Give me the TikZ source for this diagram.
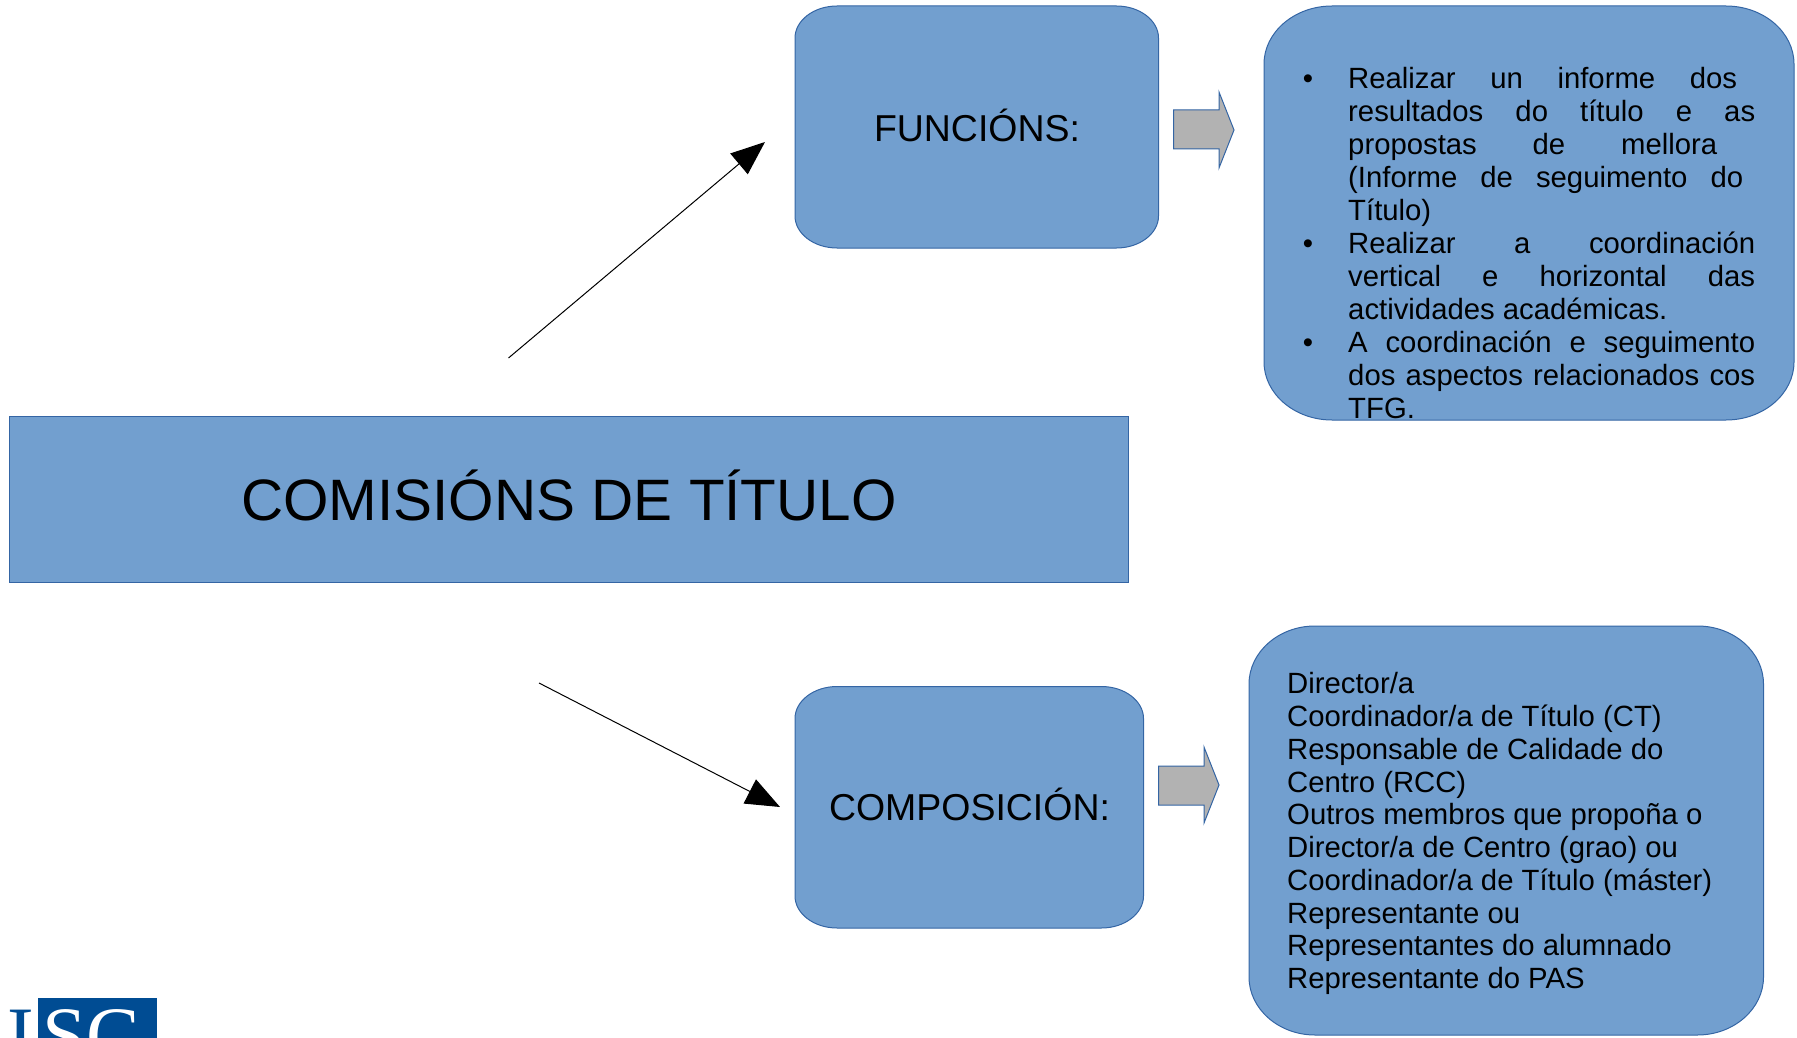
\documentclass[tikz,border=0pt]{standalone}
\usepackage{fontspec}
\setmainfont{Liberation Sans}
\newfontfamily\logofont{Liberation Serif}
\usetikzlibrary{arrows.meta}
\definecolor{boxfill}{HTML}{729FCF}
\definecolor{boxline}{HTML}{3465A4}
\definecolor{arrowfill}{HTML}{B2B2B2}
\definecolor{logoblue}{HTML}{004C93}
\newcommand{\softbox}[6]{%
  \draw[shapestyle] ({#1+#5},#2) -- ({#3-#5},#2)
    .. controls ({#3-0.45*#5},#2) and (#3,{#2+0.45*#6}) .. (#3,{#2+#6})
    -- (#3,{#4-#6})
    .. controls (#3,{#4-0.45*#6}) and ({#3-0.45*#5},#4) .. ({#3-#5},#4)
    -- ({#1+#5},#4)
    .. controls ({#1+0.45*#5},#4) and (#1,{#4-0.45*#6}) .. (#1,{#4-#6})
    -- (#1,{#2+#6})
    .. controls (#1,{#2+0.45*#6}) and ({#1+0.45*#5},#2) .. ({#1+#5},#2) -- cycle;}
\newcommand{\blockarrow}[7]{%
  \draw[blockstyle] (#1,#5) -- (#2,#5) -- (#2,#3) -- (#7,#4) -- (#2,#6) -- (#2,{#5+39}) -- (#1,{#5+39}) -- cycle;}
\newcommand{\just}[2]{\makebox[#1pt][s]{#2}}
\newcommand{\bul}{\llap{•\hspace{35pt}}}
\tikzset{
  shapestyle/.style={draw=boxline,fill=boxfill,line width=1pt},
  blockstyle/.style={draw=boxline,fill=arrowfill,line width=1pt},
  pointer/.style={draw=black,line width=1pt,-{Triangle[length=34pt,width=27pt]}},
  bodytext/.style={anchor=north west,inner sep=0pt,align=left,text=black,
    font=\fontsize{29.3}{33}\selectfont},
  bodytextb/.style={bodytext,font=\fontsize{29.3}{32.75}\selectfont},
  headtext/.style={anchor=center,inner sep=0pt,text=black,font=\fontsize{37.45}{44}\selectfont},
  titletext/.style={anchor=center,inner sep=0pt,text=black,font=\fontsize{58.4}{70}\selectfont},
  logoletter/.style={anchor=base west,inner sep=0pt,font=\logofont\fontsize{80}{80}\selectfont}
}
\begin{document}
\begin{tikzpicture}[x=1pt,y=-1pt]
\useasboundingbox (0,0) rectangle (1797,1038);
% main banner
\draw[shapestyle] (9.5,416) rectangle (1128.5,582);
\node[titletext] (title) at (569,495) {COMISIÓNS DE TÍTULO};
% top branch
\softbox{795}{6}{1158.5}{248}{42}{32}
\node[headtext] (func) at (977,125) {FUNCIÓNS:};
\blockarrow{1173.5}{1219}{92}{130}{110}{168}{1234}
\softbox{1264}{6}{1794}{420}{68}{58}
\node[bodytext] (functext) at (1348,67.5) {%
\bul\just{389}{Realizar un informe dos}\\
\just{407}{resultados do título e as}\\
\just{369}{propostas de mellora}\\
\just{395}{(Informe de seguimento do}\\
Título)\\
\bul\just{407}{Realizar a coordinación}\\
\just{407}{vertical e horizontal das}\\
actividades académicas.\\
\bul\just{407}{A coordinación e seguimento}\\
\just{407}{dos aspectos relacionados cos}\\
TFG.};
% bottom branch
\softbox{795}{686.5}{1143.5}{928}{42}{32}
\node[headtext] (comp) at (969.5,804.5) {COMPOSICIÓN:};
\blockarrow{1158.6}{1204}{747}{785}{766}{823}{1219}
\softbox{1249}{626}{1763.5}{1035}{66}{58}
\node[bodytextb] (comptext) at (1287,672.5) {%
Director/a\\
Coordinador/a de Título (CT)\\
Responsable de Calidade do\\
Centro (RCC)\\
Outros membros que propoña o\\
Director/a de Centro (grao) ou\\
Coordinador/a de Título (máster)\\
Representante ou\\
Representantes do alumnado\\
Representante do PAS};
% pointers
\coordinate (upstart) at (508.5,358);
\coordinate (upend) at (765,142);
\coordinate (downstart) at (539,683);
\coordinate (downend) at (780,807);
\draw[pointer] (upstart) -- (upend);
\draw[pointer] (downstart) -- (downend);
% logo, cut by the page edge
\begin{scope}
\clip (0,0) rectangle (1797,1038);
\fill[logoblue] (38,998) rectangle (157,1038);
\node[logoletter,text=logoblue] (logoi) at (7,1062) {I};
\node[logoletter,text=white] (logosc) at (42,1062) {SC};
\end{scope}
\end{tikzpicture}
\end{document}
